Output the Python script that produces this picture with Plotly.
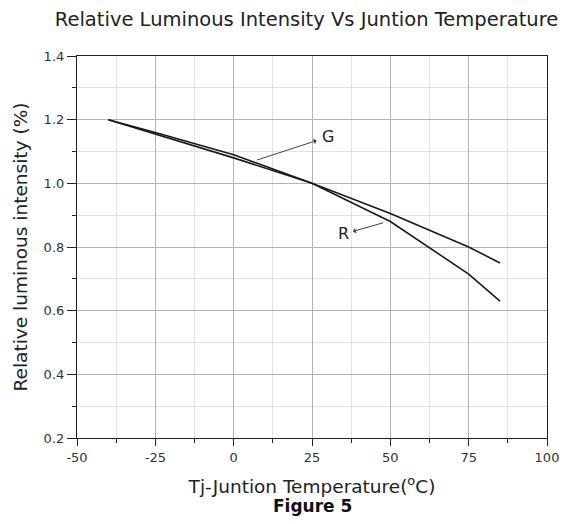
import plotly.graph_objects as go

temps = [-40, -25, 0, 25, 50, 75, 85]
g_vals = [1.20, 1.16, 1.09, 1.00, 0.905, 0.80, 0.75]
r_vals = [1.20, 1.155, 1.08, 1.00, 0.88, 0.715, 0.63]

x_ticks = [-50, -25, 0, 25, 50, 75, 100]
x_labels = ["-50", "-25", "0", "25", "50", "75", "100"]
y_ticks = [0.2, 0.4, 0.6, 0.8, 1.0, 1.2, 1.4]
y_labels = ["0.2", "0.4", "0.6", "0.8", "1.0", "1.2", "1.4"]

font = "DejaVu Sans, Verdana, sans-serif"

fig = go.Figure()
fig.add_trace(go.Scatter(x=temps, y=g_vals, mode="lines", name="G",
                         line=dict(color="#1a1a1a", width=1.6)))
fig.add_trace(go.Scatter(x=temps, y=r_vals, mode="lines", name="R",
                         line=dict(color="#1a1a1a", width=1.6)))

axis_common = dict(
    showline=True, linecolor="#222", linewidth=1.2, mirror=True,
    ticks="outside", tickcolor="#222",
    showgrid=True, gridcolor="#b4b4b4", gridwidth=1,
    zeroline=False, automargin=False,
    tickfont=dict(family=font, size=13, color="#333"),
)

fig.update_xaxes(range=[-50, 100], tickvals=x_ticks, ticktext=x_labels, ticklen=7,
                 minor=dict(dtick=12.5, showgrid=True, gridcolor="#e2e2e2",
                            ticks="outside", ticklen=4, tickcolor="#222"),
                 title=dict(text="Tj-Juntion Temperature(<sup>o</sup>C)",
                            font=dict(family=font, size=18.5, color="#222"), standoff=16),
                 **axis_common)
fig.update_yaxes(range=[0.2, 1.4], tickvals=y_ticks, ticktext=y_labels, ticklen=9,
                 minor=dict(dtick=0.1, showgrid=True, gridcolor="#e2e2e2",
                            ticks="outside", ticklen=4, tickcolor="#222"),
                 title=dict(text="Relative luminous intensity (%)",
                            font=dict(family=font, size=18.5, color="#222"), standoff=11),
                 **axis_common)

annos = [
    dict(x=7.4, y=1.073, ax=30.1, ay=1.146, axref="x", ayref="y", xref="x", yref="y",
         text="G", showarrow=True, arrowside="start", arrowhead=2, arrowsize=1,
         arrowwidth=1, arrowcolor="#444", startstandoff=4,
         font=dict(family=font, size=16, color="#222")),
    dict(x=47.7, y=0.876, ax=35.2, ay=0.841, axref="x", ayref="y", xref="x", yref="y",
         text="R", showarrow=True, arrowside="start", arrowhead=2, arrowsize=1,
         arrowwidth=1, arrowcolor="#444", startstandoff=2,
         font=dict(family=font, size=16, color="#222")),
    dict(x=0.5, y=-0.178, xref="paper", yref="paper", yanchor="middle",
         text="<b>Figure 5</b>", showarrow=False,
         font=dict(family=font, size=17, color="#111")),
]

fig.update_layout(
    width=574, height=524,
    margin=dict(l=77, r=27, t=56, b=86),
    paper_bgcolor="white", plot_bgcolor="white",
    showlegend=False,
    title=dict(text="Relative Luminous Intensity Vs Juntion Temperature",
               x=0.534, xanchor="center", y=0.964, yanchor="middle",
               font=dict(family=font, size=19.5, color="#222")),
    annotations=annos,
)

fig.write_html("out.html", config={"displayModeBar": False},
               post_script="document.body.style.margin='0';document.body.style.overflow='hidden';")
